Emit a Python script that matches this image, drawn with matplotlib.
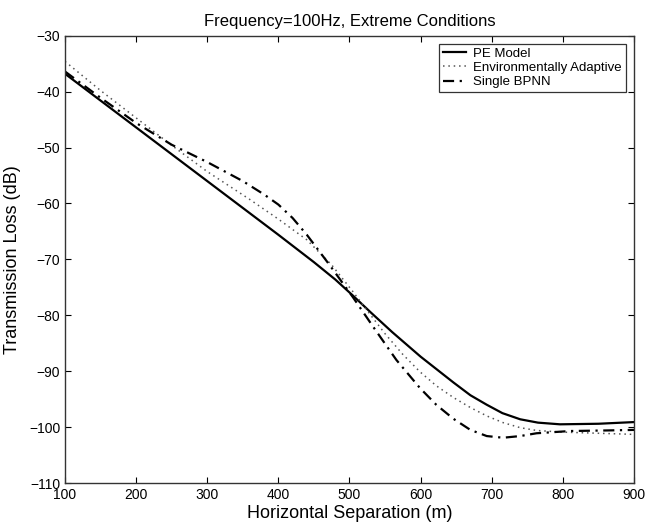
import matplotlib
matplotlib.use("Agg")
import matplotlib.pyplot as plt

plt.rcParams['font.family'] = ['Liberation Sans', 'DejaVu Sans']

pe_x = [100, 150, 200, 250, 300, 350, 400, 450, 480, 505, 530, 560, 600, 625, 646, 670, 693, 715, 740, 765, 796, 850, 900]
pe_y = [-36.8, -41.6, -46.4, -51.2, -56.0, -60.8, -65.6, -70.5, -73.6, -76.5, -79.5, -83.0, -87.4, -89.9, -92.0, -94.3, -96.0, -97.5, -98.6, -99.2, -99.5, -99.4, -99.1]

ea_x = [100, 150, 200, 250, 300, 360, 400, 440, 475, 505, 530, 550, 575, 599, 622, 646, 670, 693, 716, 740, 763, 800, 850, 900]
ea_y = [-34.6, -39.8, -44.7, -49.6, -54.3, -59.3, -62.8, -66.5, -71.0, -75.8, -80.0, -83.3, -87.0, -90.1, -92.6, -94.7, -96.5, -98.0, -99.2, -100.1, -100.6, -100.9, -101.1, -101.3]

bp_x = [100, 150, 200, 250, 300, 350, 380, 400, 420, 440, 472, 505, 533, 566, 599, 622, 646, 670, 693, 716, 740, 763, 810, 860, 900]
bp_y = [-36.4, -41.1, -45.6, -49.5, -52.6, -56.0, -58.4, -60.2, -62.6, -65.6, -71.0, -76.8, -82.0, -88.0, -93.0, -96.0, -98.5, -100.5, -101.6, -101.9, -101.6, -101.1, -100.7, -100.6, -100.5]

xticks = [100, 200, 300, 400, 500, 600, 700, 800, 900]
yticks = [-110, -100, -90, -80, -70, -60, -50, -40, -30]

fig = plt.figure(figsize=(6.46, 5.26), dpi=100)
ax = fig.add_axes([0.1006, 0.0817, 0.8808, 0.8504])

ax.plot(pe_x, pe_y, color='black', linewidth=1.6, linestyle='-', label='PE Model')
ax.plot(ea_x, ea_y, color='#555555', linewidth=1.1, linestyle=(0, (1, 2.5)), label='Environmentally Adaptive')
ax.plot(bp_x, bp_y, color='black', linewidth=1.6, linestyle=(0, (5, 2.5, 1, 2.5)), label='Single BPNN')

ax.set_xlim(100, 900)
ax.set_ylim(-110, -30)
ax.set_xticks(xticks)
ax.set_yticks(yticks)
ax.tick_params(direction='in', length=4, labelsize=10, top=True, right=True, width=0.8)
for s in ax.spines.values():
    s.set_linewidth(1.0)
    s.set_color('#333333')

ax.set_xlabel('Horizontal Separation (m)', fontsize=13, labelpad=2)
ax.set_ylabel('Transmission Loss (dB)', fontsize=13, labelpad=6)
ax.set_title('Frequency=100Hz, Extreme Conditions', fontsize=12, pad=7)

leg = ax.legend(loc='upper right', fontsize=9.5, frameon=True, fancybox=False,
                edgecolor='black', borderaxespad=0.6, handlelength=1.7,
                handletextpad=0.6, labelspacing=0.15, borderpad=0.3)
leg.get_frame().set_linewidth(0.9)

fig.savefig('out.png', dpi=100)
